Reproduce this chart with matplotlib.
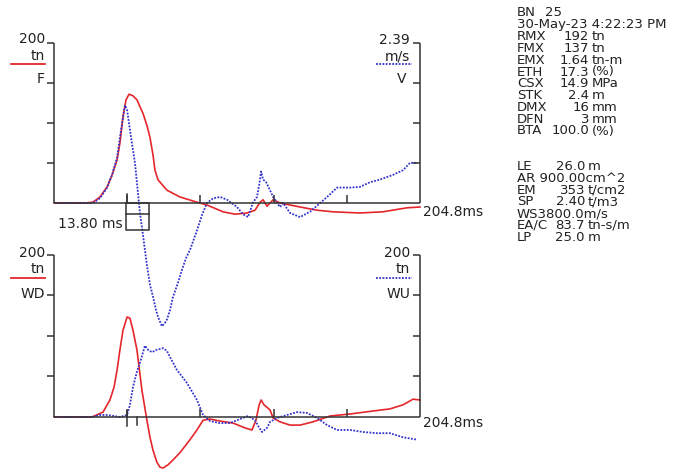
import matplotlib
matplotlib.use("Agg")
import matplotlib.pyplot as plt
import numpy as np

W, H = 692, 470
T_END = 204.8
EAC = 83.7  # tn-s/m, impedance used to scale V
RED = "#e5262b"
BLUE = "#3232cc"
AXC = "#333333"
FS = 10
FS_INFO = 9.5

# ---------------- data (time in ms, force in tn, velocity in m/s) -------------
t_F = [0, 17.3, 21.8, 25.7, 29.7, 32.5, 35.3, 36.9, 38.6, 40.3, 42.0, 44.2, 46.4,
       49.8, 52.0, 53.7, 55.4, 56.5, 58.2, 63.2, 70.5, 80.0, 85.6, 94.6, 101.3,
       108.0, 112.5, 115.3, 117.0, 119.2, 120.9, 122.6, 126.5, 132.1, 137.7,
       147.2, 156.1, 171.2, 184.1, 197.5, 204.8]
F = [0, 0, 1, 7.5, 20, 35, 54, 75, 108, 129, 136, 134, 129, 112, 97, 82, 60, 41,
     29, 16, 7.5, 1, -2.5, -11, -14, -12.5, -9, 1, 4, -4, 0, 4, 0, -2.5, -5, -9,
     -11, -12.5, -11, -6, -5]

t_V = [0, 17.3, 21.8, 25.7, 29.7, 32.5, 35.3, 37.5, 39.7, 40.9, 42.5, 44.2, 45.3,
       48.1, 49.8, 52.0, 53.7, 55.4, 57.1, 58.2, 60.4, 62.1, 63.2, 64.9, 66.6,
       69.4, 71.6, 73.9, 76.1, 80.0, 82.8, 85.6, 89.0, 92.9, 96.8, 102.4, 105.8,
       108.6, 111.4, 113.6, 114.8, 115.9, 117.0, 118.7, 120.9, 122.6, 124.8,
       126.5, 128.2, 132.1, 137.7, 143.3, 148.9, 152.8, 158.4, 165.6, 171.2,
       176.8, 182.4, 189.7, 195.3, 199.2, 203.7]
V = [0, 0, 0, 0.07, 0.23, 0.42, 0.68, 1.09, 1.46, 1.39, 1.09, 0.79, 0.60, -0.15,
     -0.48, -0.93, -1.22, -1.40, -1.60, -1.70, -1.84, -1.79, -1.74, -1.60, -1.40,
     -1.19, -1.00, -0.82, -0.70, -0.41, -0.18, 0, 0.07, 0.09, 0.05, -0.06, -0.17,
     -0.21, 0.01, 0.09, 0.27, 0.47, 0.35, 0.31, 0.19, 0.09, 0, -0.06, 0, -0.15,
     -0.21, -0.13, 0, 0.09, 0.23, 0.23, 0.24, 0.31, 0.35, 0.42, 0.49, 0.60, 0.60]

t_WD = [0, 17.3, 21.3, 27.4, 31.3, 33.6, 35.3, 36.9, 38.6, 40.9, 42.5, 44.2, 46.4,
        49.2, 52.0, 53.7, 55.4, 57.6, 59.3, 61.0, 63.8, 66.6, 70.5, 76.1, 80.0,
        83.4, 87.3, 92.9, 100.2, 106.9, 110.8, 113.0, 114.8, 115.9, 117.5, 119.2,
        120.9, 122.6, 126.5, 132.1, 137.7, 144.9, 154.4, 165.6, 178.5, 188.0,
        195.3, 200.9, 204.8]
WD = [0, 0, 0, 6, 21, 37, 58, 83, 107, 123.5, 122, 107, 83, 33, -4, -25, -41, -56,
      -62, -63, -59, -53, -44, -28, -16, -4, -2.5, -5, -7.5, -13.5, -16, -4, 15,
      21, 15, 12, 8.6, -1.2, -6, -10, -10, -6, 1.2, 3.7, 7.4, 10, 15, 22, 21]

t_WU = [0, 21.3, 25.7, 29.7, 34.1, 36.9, 40.9, 42.5, 44.2, 46.4, 48.1, 50.9, 52.6,
        54.8, 57.6, 61.0, 63.2, 64.9, 68.8, 74.4, 80.0, 83.4, 87.3, 92.9, 98.5,
        104.1, 108.6, 112.5, 114.2, 116.4, 119.2, 120.9, 124.8, 130.4, 136.0,
        141.6, 147.2, 152.8, 158.4, 165.6, 172.9, 180.8, 188.0, 195.3, 203.1]
WU = [0, 0, 2.5, 2.5, 1, 0, 2.5, 15, 37, 56, 67, 88, 83, 80, 83, 85, 81.5, 74, 58,
      42, 21, 2.5, -5, -7.5, -7.5, -2.5, 1.2, -4, -11, -18.5, -13.5, -6, -1.2, 2.5,
      6, 5, -1.2, -10, -16, -16, -18.5, -20, -20, -25, -28]

x_marks = [40.96, 81.92, 122.88, 163.84]
y_ticks = [50, 100, 150, 200]
impact_ms = 40.96
second_mark_ms = 46.4

info_labels = ["RMX", "FMX", "EMX", "ETH", "CSX", "STK", "DMX", "DFN", "BTA"]
info_values = ["192", "137", "1.64", "17.3", "14.9", "2.4", "16", "3", "100.0"]
info_units = ["tn", "tn", "tn-m", "(%)", "MPa", "m", "mm", "mm", "(%)"]

pile_labels = ["LE", "AR", "EM", "SP", "WS", "EA/C", "LP"]
pile_values = ["26.0", "900.00cm^2", "353", "2.40", "3800.0m/s", "83.7", "25.0"]
pile_units = ["m", "", "t/cm2", "t/m3", "", "tn-s/m", "m"]
pile_sep = [" ", " ", " ", " ", "", " ", " "]

# ---------------------------------------------------------------------------
plt.rcParams['font.family'] = ['DejaVu Sans']
fig = plt.figure(figsize=(W / 100, H / 100), dpi=100)


def fx(x):
    return x / W


def fy(y):
    return 1 - y / H


def make_axes(y200, y0, ybot):
    per = (y0 - y200) / 200.0  # px per tn
    vmin = -(ybot - y0) / per
    ax = fig.add_axes([fx(54), fy(ybot), (420 - 54) / W, (ybot - y200) / H])
    ax.set_xlim(0, T_END)
    ax.set_ylim(vmin, 200)
    ax.axis("off")
    ax.patch.set_visible(False)
    return ax, per


def frame(ax, per):
    kw = dict(color=AXC, lw=1.1, solid_capstyle="butt", clip_on=False, zorder=5)
    ax.plot([0, 0], [0, 200], **kw)
    ax.plot([T_END, T_END], [0, 200], **kw)
    ax.plot([0, T_END], [0, 0], **kw)
    msx = T_END / 366.0  # ms per px
    for v in y_ticks:
        ax.plot([-7 * msx, 0], [v, v], **kw)
        ax.plot([T_END - 7 * msx, T_END], [v, v], **kw)
    for t in x_marks:
        ax.plot([t, t], [0, 8 / per], **kw)


axT, perT = make_axes(43, 203, 345)
axB, perB = make_axes(255, 417, 472)

frame(axT, perT)
frame(axB, perB)

# curves
axT.plot(t_F, F, color=RED, lw=1.2, zorder=3, clip_on=False)
axT.plot(t_V, np.array(V) * EAC, color=BLUE, lw=1.3, ls=(0, (1, 0.8)),
         zorder=4, clip_on=False)
axB.plot(t_WD, WD, color=RED, lw=1.2, zorder=3, clip_on=False)
axB.plot(t_WU, WU, color=BLUE, lw=1.3, ls=(0, (1, 0.8)), zorder=4, clip_on=False)

# marker box under top axis
kw = dict(color=AXC, lw=1.1, clip_on=False, zorder=5)
bx0, bx1 = impact_ms - 0.6, impact_ms + 12.3
by1, bym = -27 / perT, -11 / perT
axT.plot([bx0, bx0, bx1, bx1, bx0], [0, by1, by1, 0, 0], **kw)
axT.plot([bx0, bx1], [bym, bym], **kw)
axT.plot([impact_ms, impact_ms], [0, 9 / perT], **kw)
# bottom markers
axB.plot([impact_ms, impact_ms], [-9 / perB, 6 / perB], **kw)
axB.plot([second_mark_ms, second_mark_ms], [-8 / perB, 0], **kw)

# --------------- labels ---------------------------------------------------
tk = dict(fontsize=FS, color="#222222")


def ptext(x, y, s, ha="left", va="center", **k):
    d = dict(tk)
    d.update(k)
    fig.text(fx(x), fy(y), s, ha=ha, va=va, **d)


# top left
ptext(45, 43, "200", ha="right", va="baseline")
ptext(45, 60, "tn", ha="right", va="baseline")
fig.add_artist(plt.Line2D([fx(11), fx(45)], [fy(64), fy(64)], color=RED, lw=1.3))
ptext(45, 83, "F", ha="right", va="baseline")
# top right
ptext(410, 44, "2.39", ha="right", va="baseline")
ptext(410, 60, "m/s", ha="right", va="baseline")
fig.add_artist(plt.Line2D([fx(376), fx(412)], [fy(63.5), fy(63.5)], color=BLUE,
                          lw=1.3, ls=(0, (1, 0.8))))
ptext(406, 83, "V", ha="right", va="baseline")
# bottom left
ptext(45, 257, "200", ha="right", va="baseline")
ptext(45, 273, "tn", ha="right", va="baseline")
fig.add_artist(plt.Line2D([fx(11), fx(45)], [fy(278), fy(278)], color=RED, lw=1.3))
ptext(45, 298, "WD", ha="right", va="baseline")
# bottom right
ptext(410, 257, "200", ha="right", va="baseline")
ptext(410, 273, "tn", ha="right", va="baseline")
fig.add_artist(plt.Line2D([fx(376), fx(412)], [fy(278), fy(278)], color=BLUE,
                          lw=1.3, ls=(0, (1, 0.8))))
ptext(410, 298, "WU", ha="right", va="baseline")

ptext(423, 212, "204.8ms")
ptext(423, 423, "204.8ms")
ptext(58, 224, "13.80 ms")

# right info column
LH = 11.8
ik = dict(fontsize=FS_INFO)
ptext(517, 13, "BN", **ik)
ptext(545, 13, "25", **ik)
ptext(517, 13 + LH, "30-May-23 4:22:23 PM", **ik)
for i, (lab, val, un) in enumerate(zip(info_labels, info_values, info_units)):
    y = 13 + (i + 2) * LH
    ptext(517, y, lab, **ik)
    ptext(589, y, val, ha="right", **ik)
    ptext(592, y, un, **ik)

y0p = 13 + 11 * LH + 2 * LH
for i, (lab, val, un, sep) in enumerate(zip(pile_labels, pile_values,
                                             pile_units, pile_sep)):
    y = y0p + i * LH
    if un:
        ptext(517, y, lab, **ik)
        ptext(585, y, val, ha="right", **ik)
        ptext(588, y, un, **ik)
    else:
        ptext(517, y, lab + sep + val, **ik)

fig.savefig("out.png", dpi=100)
